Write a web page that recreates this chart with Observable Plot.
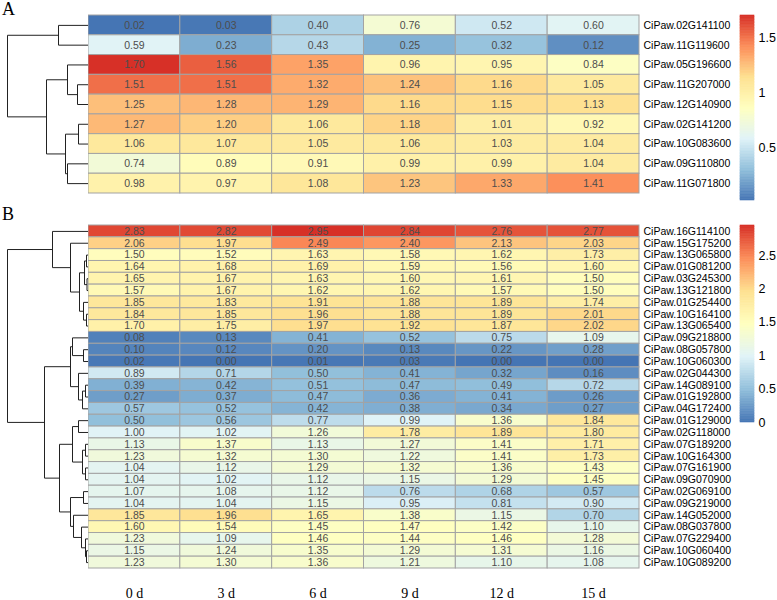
<!DOCTYPE html>
<html><head><meta charset="utf-8">
<script src="https://cdn.jsdelivr.net/npm/d3@7"></script>
<script src="https://cdn.jsdelivr.net/npm/@observablehq/plot@0.6"></script>
<style>
body{margin:0;background:#fff;}
#chart{position:relative;width:777px;height:600px;overflow:hidden;font-family:"Liberation Sans",Arial,sans-serif;}
.abs{position:absolute;}
.letter{font-family:"Liberation Serif","Times New Roman",serif;font-size:18px;line-height:18px;}
</style></head><body><div id="chart"></div>
<script>
// ---------- data ----------
const days = ["0 d", "3 d", "6 d", "9 d", "12 d", "15 d"];

const genesA = ["CiPaw.02G141100","CiPaw.11G119600","CiPaw.05G196600","CiPaw.11G207000","CiPaw.12G140900","CiPaw.02G141200","CiPaw.10G083600","CiPaw.09G110800","CiPaw.11G071800"];
const valuesA = [
  [0.02,0.03,0.40,0.76,0.52,0.60],
  [0.59,0.23,0.43,0.25,0.32,0.12],
  [1.70,1.56,1.35,0.96,0.95,0.84],
  [1.51,1.51,1.32,1.24,1.16,1.05],
  [1.25,1.28,1.29,1.16,1.15,1.13],
  [1.27,1.20,1.06,1.18,1.01,0.92],
  [1.06,1.07,1.05,1.06,1.03,1.04],
  [0.74,0.89,0.91,0.99,0.99,1.04],
  [0.98,0.97,1.08,1.23,1.33,1.41]
];
const legendTicksA = [0.5, 1, 1.5];

const genesB = ["CiPaw.16G114100","CiPaw.15G175200","CiPaw.13G065800","CiPaw.01G081200","CiPaw.03G245300","CiPaw.13G121800","CiPaw.01G254400","CiPaw.10G164100","CiPaw.13G065400","CiPaw.09G218800","CiPaw.08G057800","CiPaw.10G060300","CiPaw.02G044300","CiPaw.14G089100","CiPaw.01G192800","CiPaw.04G172400","CiPaw.01G129000","CiPaw.02G118000","CiPaw.07G189200","CiPaw.10G164300","CiPaw.07G161900","CiPaw.09G070900","CiPaw.02G069100","CiPaw.09G219000","CiPaw.14G052000","CiPaw.08G037800","CiPaw.07G229400","CiPaw.10G060400","CiPaw.10G089200"];
const valuesB = [
  [2.83,2.82,2.95,2.84,2.76,2.77],
  [2.06,1.97,2.49,2.40,2.13,2.03],
  [1.50,1.52,1.63,1.58,1.62,1.73],
  [1.64,1.68,1.69,1.59,1.56,1.60],
  [1.65,1.67,1.63,1.60,1.61,1.50],
  [1.57,1.67,1.62,1.62,1.57,1.50],
  [1.85,1.83,1.91,1.88,1.89,1.74],
  [1.84,1.85,1.96,1.88,1.89,2.01],
  [1.70,1.75,1.97,1.92,1.87,2.02],
  [0.08,0.13,0.41,0.52,0.75,1.09],
  [0.10,0.12,0.20,0.13,0.22,0.28],
  [0.02,0.00,0.01,0.03,0.00,0.00],
  [0.89,0.71,0.50,0.41,0.32,0.16],
  [0.39,0.42,0.51,0.47,0.49,0.72],
  [0.27,0.37,0.47,0.36,0.41,0.26],
  [0.57,0.52,0.42,0.38,0.34,0.27],
  [0.50,0.56,0.77,0.99,1.36,1.84],
  [1.00,1.02,1.26,1.78,1.89,1.80],
  [1.13,1.37,1.13,1.27,1.41,1.71],
  [1.23,1.32,1.30,1.22,1.41,1.73],
  [1.04,1.12,1.29,1.32,1.36,1.43],
  [1.04,1.02,1.12,1.15,1.29,1.45],
  [1.07,1.08,1.12,0.76,0.68,0.57],
  [1.04,1.04,1.15,0.95,0.81,0.90],
  [1.85,1.96,1.65,1.38,1.15,0.70],
  [1.60,1.54,1.45,1.47,1.42,1.10],
  [1.23,1.09,1.46,1.44,1.46,1.28],
  [1.15,1.24,1.35,1.29,1.31,1.16],
  [1.23,1.30,1.36,1.21,1.10,1.08]
];
const legendTicksB = [0, 0.5, 1, 1.5, 2, 2.5];

// dendrograms: [mergeHeight, left, right]; a number is a leaf (row index)
const treeA = [81, [30, 0, 1], [42, [21, 2, [11, 3, 4]], [23, [10, 5, 6], [21, 7, 8]]]];
const treeB = [81,
  [36, 0, [18, 1, [9, [4, [2, 2, 3], [1.5, 4, 5]], [5, 6, [2, 7, 8]]]]],
  [44,
    [18, [16, 9, [5, 10, 11]], [10, 12, [6, [3, 13, 14], 15]]],
    [29,
      [16, [10, 16, 17], [6, [3, 18, 19], [3, 20, 21]]],
      [18, [5, 22, 23], [15, 24, [7, 25, [3, 26, [2, 27, 28]]]]]
    ]
  ]
];

const palette = ["#4575b4","#91bfdb","#e0f3f8","#ffffbf","#fee090","#fc8d59","#d73027"];

// ---------- helpers ----------
const chart = document.getElementById("chart");
function place(el, left, top) {
  el.classList.add("abs");
  el.style.left = left + "px";
  el.style.top = top + "px";
  chart.appendChild(el);
}
function colorOpts(min, max) {
  return {type: "linear", domain: palette.map((_, i) => min + (max - min) * i / (palette.length - 1)), range: palette, interpolate: "rgb"};
}
function layoutTree(node, segs) {
  if (typeof node === "number") return {x: 0, y: node + 0.5};
  const [h, a, b] = node;
  const A = layoutTree(a, segs), B = layoutTree(b, segs);
  segs.push({x1: h, y1: A.y, x2: h, y2: B.y});
  segs.push({x1: A.x, y1: A.y, x2: h, y2: A.y});
  segs.push({x1: B.x, y1: B.y, x2: h, y2: B.y});
  return {x: h, y: (A.y + B.y) / 2};
}
function dendro(tree, n, h, mt, mb) {
  const segs = [];
  layoutTree(tree, segs);
  return Plot.plot({
    width: 88, height: h, marginLeft: 7, marginRight: 0, marginTop: mt, marginBottom: mb,
    style: {background: "none"},
    x: {domain: [tree[0], 0], axis: null},
    y: {domain: [n, 0], axis: null},
    marks: [Plot.link(segs, {x1: "x1", y1: "y1", x2: "x2", y2: "y2", stroke: "#222", strokeWidth: 1})]
  });
}
function heatmap(genes, values, min, max, h, mt, mb, showX) {
  const table = genes.flatMap((g, i) => days.map((d, j) => ({gene: g, day: d, v: values[i][j]})));
  const marks = [
    Plot.cell(table, {x: "day", y: "gene", fill: "v", stroke: "#a3a3a3", strokeWidth: 1, inset: 0}),
    Plot.text(table, {x: "day", y: "gene", text: d => d.v.toFixed(2), fill: "#4d4d4d", fontSize: 10.5}),
    Plot.axisY({anchor: "right", tickSize: 0, tickPadding: 4, fontSize: 10.5, label: null})
  ];
  if (showX) marks.push(Plot.axisX({anchor: "bottom", tickSize: 0, tickPadding: 20, fontSize: 14,
    fontFamily: "Liberation Serif, Times New Roman, serif", label: null}));
  return Plot.plot({
    width: 647, height: h, marginLeft: 0, marginRight: 96, marginTop: mt, marginBottom: mb,
    style: {background: "none", color: "black", fontFamily: "Liberation Sans, Arial, sans-serif"},
    x: {domain: days, padding: 0, round: false, axis: showX ? undefined : null},
    y: {domain: genes, padding: 0, round: false},
    color: colorOpts(min, max),
    marks
  });
}
function legend(min, max, ticks, h, mt, mb) {
  const n = 120, step = (max - min) / n;
  const stops = d3.range(n).map(i => min + i * step);
  return Plot.plot({
    width: 42, height: h, marginLeft: 5, marginRight: 23, marginTop: mt, marginBottom: mb,
    style: {background: "none", color: "black", fontFamily: "Liberation Sans, Arial, sans-serif"},
    x: {domain: [0, 1], axis: null},
    y: {domain: [min, max]},
    color: colorOpts(min, max),
    marks: [
      Plot.rect(stops, {x1: () => 0, x2: () => 1, y1: d => d, y2: d => d + step, fill: d => d + step / 2, stroke: d => d + step / 2, strokeWidth: 0.6}),
      Plot.axisY({anchor: "right", ticks, tickSize: 0, tickPadding: 4, tickFormat: d => String(d), fontSize: 12.5, label: null})
    ]
  });
}
function letter(t, left, top) {
  const d = document.createElement("div");
  d.className = "letter";
  d.textContent = t;
  place(d, left, top);
}

// ---------- panel A ----------
const minA = d3.min(valuesA.flat()), maxA = d3.max(valuesA.flat());
letter("A", 2, 0);
place(dendro(treeA, genesA.length, 205, 15, 12), 0, 0);
place(heatmap(genesA, valuesA, minA, maxA, 205, 15, 12, false), 88, 0);
place(legend(minA, maxA, legendTicksA, 205, 15, 5), 735, 0);

// ---------- panel B ----------
const minB = d3.min(valuesB.flat()), maxB = d3.max(valuesB.flat());
letter("B", 2, 205);
place(dendro(treeB, genesB.length, 390, 15, 32), 0, 210);
place(heatmap(genesB, valuesB, minB, maxB, 390, 15, 32, true), 88, 210);
place(legend(minB, maxB, legendTicksB, 390, 15, 178), 735, 210);
</script>
</body></html>
